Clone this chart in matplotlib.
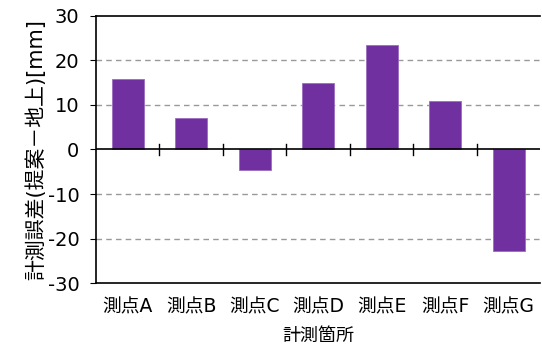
import numpy as np
import matplotlib.pyplot as plt

plt.rcParams['font.family'] = ['DejaVu Sans', 'Noto Sans CJK JP']
plt.rcParams['axes.unicode_minus'] = False

points = ['測点A', '測点B', '測点C', '測点D', '測点E', '測点F', '測点G']
errors = [15.8, 7.0, -4.5, 15.0, 23.5, 11.0, -22.7]

fig = plt.figure(figsize=(5.42, 3.53), dpi=100)
ax = fig.add_axes([0.177, 0.198, 0.82, 0.757])

x = np.arange(len(points))
ax.bar(x, errors, width=0.5, color='#7030A0', edgecolor='#9b6cc0', linewidth=0.6, zorder=3)

ax.set_xlim(-0.5, len(points) - 0.5)
ax.set_ylim(-30, 30)
ax.set_yticks([-30, -20, -10, 0, 10, 20, 30])
for v in [-20, -10, 10, 20]:
    ax.axhline(v, color='#999999', linestyle=(0, (4, 3)), linewidth=1, zorder=1)

# zero line with ticks between the categories
ax.axhline(0, color='black', linewidth=1.2, zorder=4)
for b in x[:-1] + 0.5:
    ax.plot([b, b], [-1.3, 1.3], color='black', linewidth=1, zorder=4)

ax.set_xticks(x)
ax.set_xticklabels(points, fontsize=13.5)
ax.tick_params(axis='x', length=0, pad=10)
ax.tick_params(axis='y', labelsize=14, length=4, direction='out', pad=8)

for s in ax.spines.values():
    s.set_linewidth(1.2)
ax.spines['right'].set_visible(False)

ax.set_xlabel('計測箇所', fontsize=13, labelpad=8)
ax.set_ylabel('計測誤差(提案－地上)[mm]', fontsize=15, labelpad=1)

fig.savefig('out.png', dpi=100)
